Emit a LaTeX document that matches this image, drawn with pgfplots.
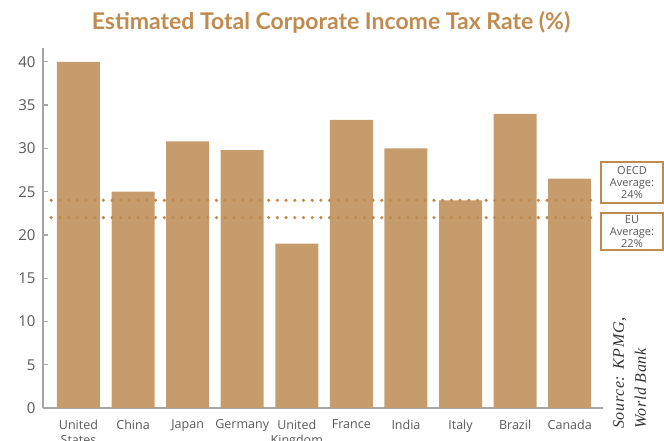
\documentclass[border=0pt]{standalone}
\usepackage{pgfplots}
\pgfplotsset{compat=1.18}
\usepackage{fontspec}
\setmainfont{Open Sans}
\newfontfamily\titlefont{Lato}
\newfontfamily\srcfont[LetterSpace=4]{Liberation Serif}
\definecolor{bar}{HTML}{C69C6D}
\definecolor{tan}{HTML}{BF8B4E}
\definecolor{txt}{HTML}{595959}
\definecolor{axgray}{HTML}{A6A6A6}
\begin{document}
\begin{tikzpicture}
\path[use as bounding box] (-43pt,-33pt) rectangle (621pt,408pt);
\begin{axis}[
    scale only axis,
    width=560pt, height=360pt,
    at={(0pt,0pt)}, anchor=south west,
    xmin=-0.65, xmax=9.61,
    ymin=0, ymax=41.6,
    axis x line*=bottom, axis y line*=left,
    axis line style={axgray, line width=1.3pt},
    xtick={0,...,9},
    xticklabels={United\\States, China, Japan, Germany, United\\Kingdom, France, India, Italy, Brazil, Canada},
    xticklabel style={align=center, font=\fontsize{12.5}{15}\selectfont, text=txt, yshift=-8pt},
    major x tick style={draw=none},
    ytick={0,5,...,40},
    yticklabel style={font=\fontsize{15}{16}\selectfont, text=txt, xshift=-4pt},
    /pgf/number format/assume math mode=true,
    tick align=inside,
    major tick length=5pt,
    y tick style={axgray, line width=1.3pt},
    clip=false,
]
\addplot[ybar, bar width=43pt, fill=bar, draw=none] coordinates {
    (0,40) (1,25) (2,30.8) (3,29.8) (4,19) (5,33.3) (6,30) (7,24) (8,34) (9,26.5)
};
\addplot[tan, line width=3.6pt, line cap=round, dash pattern=on 0pt off 8.7pt] coordinates {(-0.5,24) (9.5,24)};
\addplot[tan, line width=3.6pt, line cap=round, dash pattern=on 0pt off 8.7pt] coordinates {(-0.5,22) (9.5,22)};
\end{axis}
\node[font=\titlefont\bfseries\fontsize{23}{26}\selectfont, text=tan] at (288pt,386pt) {Estimated Total Corporate Income Tax Rate (\%)};
\node[draw=tan, line width=1.8pt, fill=white, minimum width=62pt, minimum height=41pt, inner sep=0pt, align=center, text=txt, font=\fontsize{11}{12}\selectfont] at (589pt,225.5pt) {OECD\\Average:\\24\%};
\node[draw=tan, line width=1.8pt, fill=white, minimum width=62pt, minimum height=37pt, inner sep=0pt, align=center, text=txt, font=\fontsize{11}{12}\selectfont] at (589pt,176.5pt) {EU\\Average:\\22\%};
\node[rotate=90, anchor=north west, inner sep=0pt, align=left, text=black!80, font=\srcfont\itshape\fontsize{16}{22}\selectfont] at (570pt,-21pt) {Source: KPMG,\\World Bank};
\end{tikzpicture}
\end{document}
